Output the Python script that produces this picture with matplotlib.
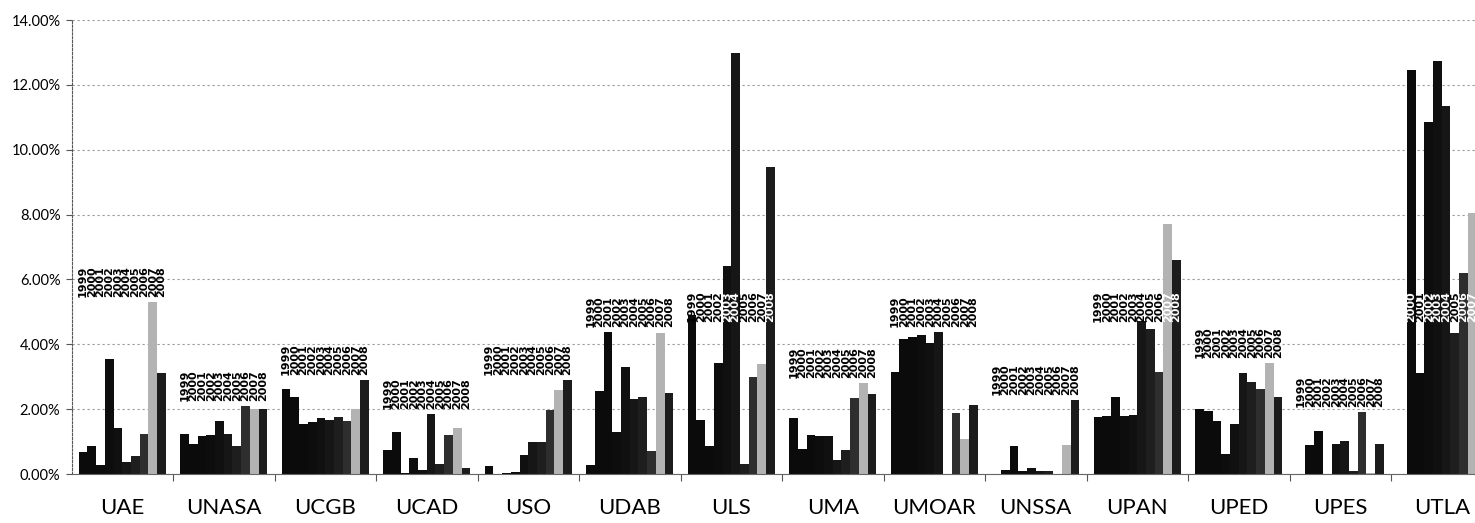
import numpy as np
import matplotlib
matplotlib.use("Agg")
import matplotlib.pyplot as plt
from matplotlib.ticker import FuncFormatter, FixedLocator

# ---------------- data ----------------
years = ["1999", "2000", "2001", "2002", "2003", "2004", "2005", "2006", "2007", "2008"]
groups = ["UAE", "UNASA", "UCGB", "UCAD", "USO", "UDAB", "ULS",
          "UMA", "UMOAR", "UNSSA", "UPAN", "UPED", "UPES", "UTLA"]

UAE   = [0.67, 0.87, 0.29, 3.54, 1.42, 0.36, 0.56, 1.22, 5.30, 3.11]
UNASA = [1.24, 0.93, 1.16, 1.19, 1.64, 1.23, 0.87, 2.10, 2.00, 2.00]
UCGB  = [2.63, 2.36, 1.54, 1.59, 1.72, 1.67, 1.75, 1.62, 2.00, 2.90]
UCAD  = [0.73, 1.31, 0.03, 0.50, 0.11, 1.86, 0.32, 1.21, 1.42, 0.18]
USO   = [0.26, 0.00, 0.03, 0.07, 0.60, 1.00, 1.00, 1.98, 2.60, 2.90]
UDAB  = [0.27, 2.57, 4.39, 1.29, 3.29, 2.31, 2.37, 0.70, 4.35, 2.49]
ULS   = [4.90, 1.67, 0.87, 3.42, 6.40, 12.98, 0.32, 3.00, 3.40, 9.48]
UMA   = [1.74, 0.78, 1.21, 1.16, 1.16, 0.42, 0.75, 2.33, 2.80, 2.47]
UMOAR = [3.16, 4.15, 4.22, 4.29, 4.05, 4.39, 0.00, 1.88, 1.08, 2.13]
UNSSA = [0.00, 0.13, 0.85, 0.08, 0.18, 0.08, 0.08, 0.00, 0.90, 2.29]
UPAN  = [1.75, 1.80, 2.36, 1.80, 1.82, 4.72, 4.48, 3.14, 7.72, 6.60]
UPED  = [2.00, 1.95, 1.64, 0.63, 1.53, 3.10, 2.85, 2.62, 3.42, 2.38]
UPES  = [0.00, 0.89, 1.34, 0.00, 0.91, 1.03, 0.08, 1.91, 0.03, 0.94]
UTLA  = [np.nan, 12.47, 3.10, 10.84, 12.73, 11.36, 4.35, 6.20, 8.05, np.nan]

series = [UAE, UNASA, UCGB, UCAD, USO, UDAB, ULS,
          UMA, UMOAR, UNSSA, UPAN, UPED, UPES, UTLA]

y_ticks = [0, 2, 4, 6, 8, 10, 12, 14]

# ---------------- style ----------------
year_colors = ["#0b0b0b", "#0b0b0b", "#0b0b0b", "#0d0d0d", "#101010",
               "#161616", "#1e1e1e", "#2e2e2e", "#b3b3b3", "#1c1c1c"]

W, H = 1475, 523
fig = plt.figure(figsize=(W / 100, H / 100), dpi=100)
left_px, right_px, top_px, bot_px = 71.5, 1475, 20, 474
ax = fig.add_axes([left_px / W, 1 - bot_px / H,
                   (right_px - left_px) / W, (bot_px - top_px) / H])

group_px = 101.5
ax.set_xlim(-0.5, -0.5 + (right_px - left_px) / group_px)
ax.set_ylim(0, 14)

bw = 8.7 / group_px
n = len(years)
for gi, vals in enumerate(series):
    vals = np.asarray(vals, dtype=float)
    xs = gi + (np.arange(n) - (n - 1) / 2) * bw
    ax.bar(xs, vals, width=bw, color=year_colors, linewidth=0, zorder=2)
    vmax = np.nanmax(vals)
    base = vmax + 0.15 if vmax < 6 else 4.7
    for j in range(n):
        if np.isnan(vals[j]):
            continue
        over = vals[j] > base + 0.3
        ax.text(xs[j], base, years[j], rotation=90, ha="center", va="bottom",
                fontsize=8, fontweight="bold", family="DejaVu Sans",
                color="white" if over else "black", zorder=3,
                linespacing=1.0)

# grid and axes
ax.set_yticks(y_ticks)
ax.yaxis.set_major_formatter(FuncFormatter(lambda v, p: f"{v:.2f}%"))
ax.yaxis.grid(True, linestyle=(0, (2, 2.5)), color="#9a9a9a", linewidth=0.8)
ax.set_axisbelow(True)

ax.set_xticks(range(len(groups)))
ax.set_xticklabels(groups, family="Lato", fontsize=16)
ax.tick_params(axis="x", which="major", length=0, pad=17)
ax.xaxis.set_minor_locator(FixedLocator([i + 0.5 for i in range(len(groups) - 1)]))
ax.tick_params(axis="x", which="minor", length=5, width=0.8, color="#555555",
               direction="out")
ax.tick_params(axis="y", length=4, width=0.8, color="#555555", pad=4)
for lab in ax.get_yticklabels():
    lab.set_family("Lato")
    lab.set_fontsize(10.5)

ax.spines["top"].set_visible(False)
ax.spines["right"].set_visible(False)
ax.spines["left"].set_linestyle((0, (2, 1.5)))
ax.spines["left"].set_color("#555555")
ax.spines["left"].set_linewidth(0.8)
ax.spines["bottom"].set_color("#666666")
ax.spines["bottom"].set_linewidth(0.8)

fig.savefig("out.png", dpi=100)
